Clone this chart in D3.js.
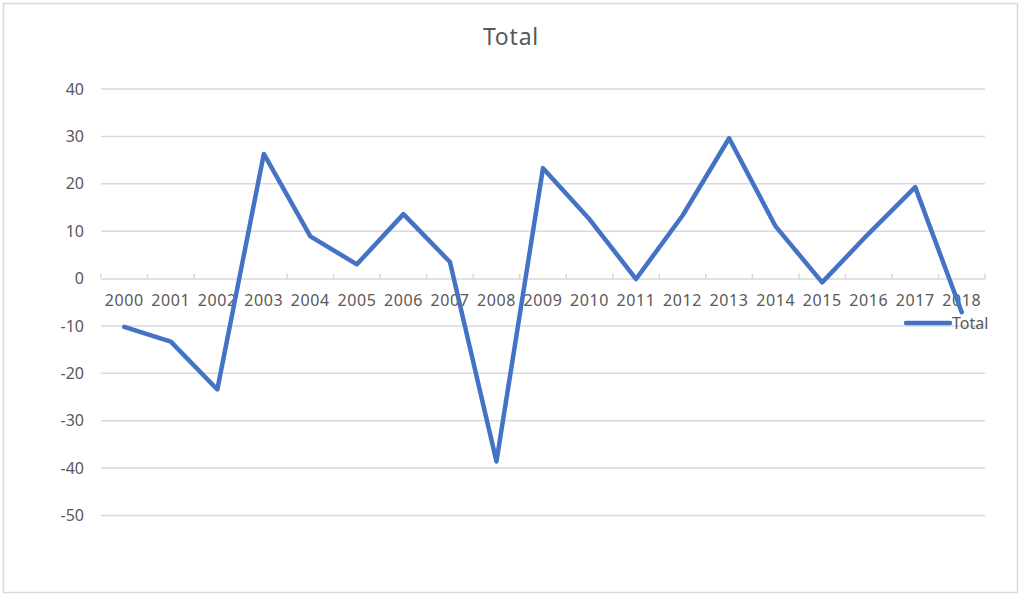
<!DOCTYPE html>
<html><head><meta charset="utf-8">
<script src="https://cdn.jsdelivr.net/npm/d3@7"></script>
<style>body{margin:0;background:#fff}svg{display:block}text{font-family:"Noto Sans","Open Sans",sans-serif;fill:#595959}</style>
</head><body>
<svg id="c" width="1024" height="600"></svg>
<script>
const years = ["2000","2001","2002","2003","2004","2005","2006","2007","2008","2009","2010","2011","2012","2013","2014","2015","2016","2017","2018"];
const totals = [-10.2,-13.3,-23.4,26.3,8.9,3.0,13.6,3.5,-38.6,23.3,12.5,-0.1,13.3,29.6,11.0,-0.8,9.5,19.3,-7.1];
const yTicks = [40,30,20,10,0,-10,-20,-30,-40,-50];
const seriesName = "Total";
const chartTitle = "Total";

const svg = d3.select("#c");
svg.append("rect").attr("x",3.5).attr("y",3.5).attr("width",1014).attr("height",589)
  .attr("fill","#fff").attr("stroke","#d9d9d9").attr("stroke-width",1.5);

const x = d3.scaleBand().domain(years).range([101,985]);
const y = d3.scaleLinear().domain([-50,40]).range([515.5,89]);

// gridlines
svg.append("g").selectAll("line").data(yTicks.filter(d=>d!==0)).join("line")
  .attr("x1",101).attr("x2",985).attr("y1",d=>y(d)).attr("y2",d=>y(d))
  .attr("stroke","#d9d9d9").attr("stroke-width",1.5);

// y axis labels
const ya = svg.append("g").attr("transform","translate(84,0)")
  .call(d3.axisLeft(y).tickValues(yTicks).tickSize(0).tickPadding(0).tickFormat(d=>String(d)));
ya.select(".domain").remove();
ya.selectAll("text").attr("font-size",16).attr("fill","#595959").style("font-family","'Noto Sans',sans-serif");

// x axis at zero
const xa = svg.append("g").attr("transform",`translate(0,${y(0)})`)
  .call(d3.axisBottom(x).tickSize(0).tickPadding(22));
xa.select(".domain").attr("stroke","#d9d9d9").attr("stroke-width",1.5);
xa.selectAll("text").attr("font-size",16).attr("letter-spacing",0.6).attr("fill","#595959").attr("dy","0.32em").style("font-family","'Noto Sans',sans-serif");
xa.selectAll(".tick line").remove();
const bounds = years.map(d=>x(d)).concat([x.range()[1]]);
xa.append("g").selectAll("line").data(bounds).join("line")
  .attr("x1",d=>d).attr("x2",d=>d).attr("y1",0).attr("y2",-5)
  .attr("stroke","#d9d9d9").attr("stroke-width",1.5);

// line
const line = d3.line().x((d,i)=>x(years[i])+x.bandwidth()/2).y(d=>y(d));
svg.append("path").datum(totals).attr("d",line).attr("fill","none")
  .attr("stroke","#4472C4").attr("stroke-width",4.5)
  .attr("stroke-linejoin","round").attr("stroke-linecap","round");

// title
svg.append("text").attr("x",511).attr("y",36).attr("text-anchor","middle")
  .attr("dominant-baseline","central").attr("font-size",23).attr("letter-spacing",0.8).text(chartTitle);

// legend
svg.append("line").attr("x1",906).attr("x2",950).attr("y1",323).attr("y2",323)
  .attr("stroke","#4472C4").attr("stroke-width",4.5).attr("stroke-linecap","round");
svg.append("text").attr("x",952).attr("y",323).attr("dominant-baseline","central")
  .attr("font-size",16).text(seriesName);
</script>
</body></html>
